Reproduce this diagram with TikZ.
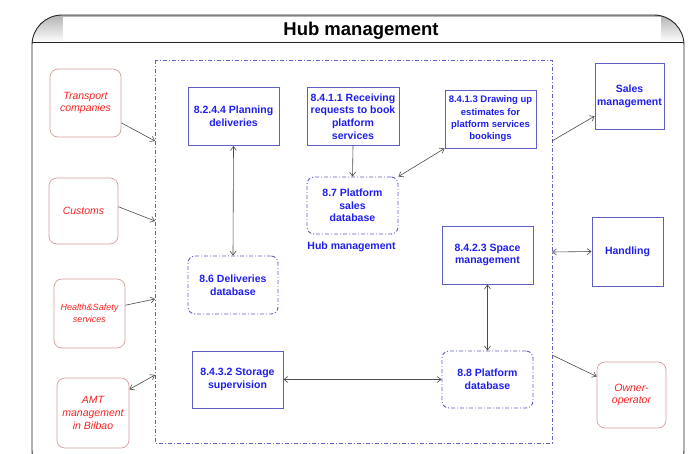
\documentclass[tikz,border=0pt]{standalone}
\usepackage{fontspec}
\setmainfont{Liberation Sans}
\usetikzlibrary{arrows.meta}
\definecolor{procblue}{RGB}{30,30,240}
\definecolor{boxblue}{RGB}{95,95,200}
\definecolor{extred}{RGB}{245,35,35}
\definecolor{extedge}{RGB}{215,155,155}
\begin{document}
\begin{tikzpicture}[x=1pt, y=-1pt, line width=.6pt,
    >={Straight Barb[length=4pt,width=6pt]},
    proc/.style={draw=boxblue, line width=.9pt, text=procblue, align=center,
        font=\fontsize{10.5}{12.7}\selectfont\bfseries, inner sep=1pt,
        minimum width=91pt, minimum height=58pt},
    store/.style={proc, rounded corners=7pt,
        dash pattern=on 4pt off 2pt on 1pt off 2pt},
    ext/.style={draw=extedge, line width=.7pt, rounded corners=8pt, text=extred,
        font=\fontsize{10.5}{12.7}\selectfont\itshape, align=center,
        minimum width=71pt, minimum height=68pt},
    link/.style={draw=black!70}]
    \def\hub{Hub management}

    \useasboundingbox (0,0) rectangle (693,453);
    \clip (0,0) rectangle (693,453);

    % frame and title bar
    \begin{scope}
    \clip[rounded corners=30pt] (32,15) rectangle (684,480);
    \shade[top color=gray!60, bottom color=white] (32,15) rectangle (684,42);
    \end{scope}
    \fill[white] (63,17) rectangle (661,41);
    \draw[black!85, line width=.9pt, rounded corners=30pt] (32,15) rectangle (684,480);
    \draw[black!85, line width=.9pt] (32,42) -- (684,42);
    \node[font=\fontsize{18.5}{20}\selectfont\bfseries, anchor=base] (title) at (361,35.5) {\hub};

    \draw[boxblue, line width=.8pt, dash pattern=on 4pt off 2pt on 1pt off 2pt]
        (155,60) rectangle (552,443);
    \coordinate (fT) at (155,141);
    \coordinate (fC) at (155,221);
    \coordinate (fH) at (155,299);
    \coordinate (fA) at (155,375);
    \coordinate (fS) at (552,141);
    \coordinate (fHd) at (552,252);
    \coordinate (fO) at (552,355);

    \node[ext] (trans) at (85.5,103) {Transport\\companies};
    \node[ext, minimum width=69pt, minimum height=66pt] (cust) at (83.5,211) {Customs};
    \node[ext, font=\fontsize{9}{12}\selectfont\itshape, minimum height=69pt] (hs) at (89.5,313.5) {Health\&Safety\\services};
    \node[ext, minimum width=72pt, minimum height=70pt] (amt) at (93,413) {AMT\\management\\in Bilbao};
    \node[proc, minimum width=69pt, minimum height=66pt] (sales) at (629.5,96) {Sales\\management};
    \node[proc, minimum width=71pt, minimum height=69pt] (hand) at (627.5,251.5) {Handling};
    \node[ext, minimum width=69pt, minimum height=66pt] (owner) at (631.5,395) {Owner-\\operator};

    \node[proc] (plan) at (233.5,116.5) {8.2.4.4 Planning\\deliveries};
    \node[proc, minimum width=92pt] (recv) at (353,116.5) {8.4.1.1 Receiving\\requests to book\\platform\\services};
    \node[proc, font=\fontsize{9.5}{12.3}\selectfont\bfseries] (est) at (490.5,119) {8.4.1.3 Drawing up\\estimates for\\platform services\\bookings};
    \node[store, minimum height=57pt] (sdb) at (352.5,205.5) {8.7 Platform\\sales\\database};
    \node[text=procblue, font=\fontsize{10.5}{12.7}\selectfont\bfseries] (hublbl) at (351.5,247) {\hub};
    \node[store, minimum width=90pt] (ddb) at (233,285) {8.6 Deliveries\\database};
    \node[proc] (space) at (487.5,255) {8.4.2.3 Space\\management};
    \node[proc, minimum height=57pt] (stor) at (237.5,379.5) {8.4.3.2 Storage\\supervision};
    \node[store, minimum height=57pt] (pdb) at (487.5,379.5) {8.8 Platform\\database};

    \foreach \a/\b in {trans.-29/fT, cust.7/fC, hs.13/fH, recv.south/sdb.north, fS/sales.-150, fO/owner.152}
        \draw[link,->] (\a) -- (\b);
    \foreach \a/\b in {amt.33/fA, plan.south/ddb.north, sdb.north east/est.south west, fHd/hand.west, space.south/pdb.north, stor.east/pdb.west}
        \draw[link,<->] (\a) -- (\b);
\end{tikzpicture}
\end{document}
